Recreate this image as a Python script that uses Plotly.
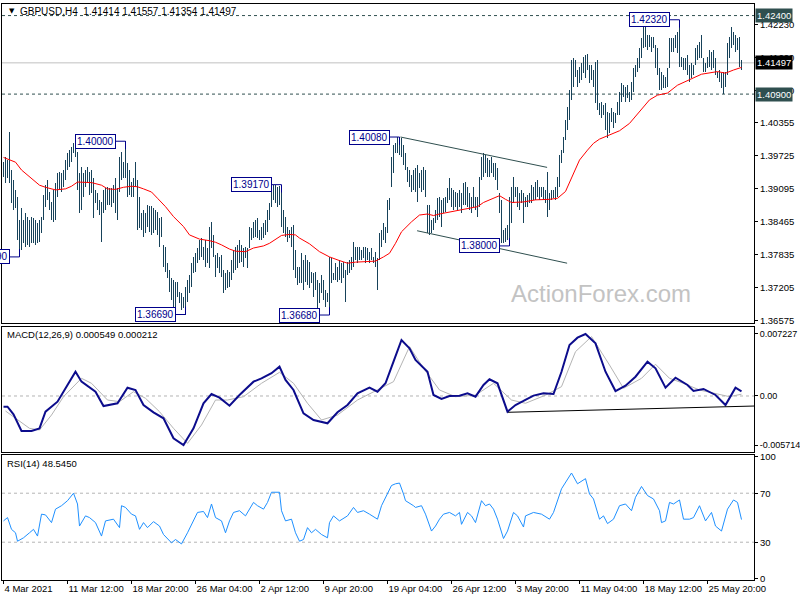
import plotly.graph_objects as go

# ---------------- data ----------------
highs = [
 1.3960,1.3970,1.3964,1.4018,1.3945,1.3926,1.3907,1.3894,1.3850,1.3873,
 1.3850,1.3863,1.3856,1.3850,1.3856,1.3854,1.3850,1.3844,1.3850,1.3856,
 1.3897,1.3917,1.3926,1.3903,1.3884,1.3907,1.3920,1.3940,1.3941,1.3940,
 1.3945,1.3964,1.3978,1.3983,1.3989,1.3997,1.3997,1.3979,1.3940,1.3951,
 1.3940,1.3945,1.3951,1.3941,1.3945,1.3930,1.3907,1.3901,1.3888,1.3884,
 1.3907,1.3911,1.3913,1.3911,1.3911,1.3917,1.3930,1.3911,1.3970,1.3979,
 1.3960,1.4000,1.3958,1.3945,1.3922,1.3930,1.3960,1.3926,1.3894,1.3863,
 1.3869,1.3863,1.3878,1.3876,1.3876,1.3873,1.3869,1.3865,1.3854,1.3856,
 1.3802,1.3798,1.3768,1.3754,1.3739,1.3735,1.3731,1.3731,1.3712,1.3710,
 1.3703,1.3722,1.3735,1.3745,1.3768,1.3779,1.3787,1.3796,1.3812,1.3815,
 1.3798,1.3812,1.3796,1.3836,1.3846,1.3821,1.3783,1.3787,1.3779,1.3783,
 1.3754,1.3749,1.3754,1.3750,1.3773,1.3792,1.3798,1.3802,1.3812,1.3802,
 1.3796,1.3798,1.3796,1.3836,1.3834,1.3846,1.3850,1.3854,1.3831,1.3836,
 1.3844,1.3850,1.3869,1.3882,1.3913,1.3917,1.3917,1.3913,1.3915,1.3917,
 1.3869,1.3856,1.3836,1.3831,1.3836,1.3840,1.3792,1.3760,1.3760,1.3787,
 1.3773,1.3783,1.3773,1.3770,1.3750,1.3749,1.3750,1.3735,1.3729,1.3745,
 1.3735,1.3716,1.3710,1.3779,1.3777,1.3749,1.3768,1.3760,1.3773,1.3768,
 1.3770,1.3754,1.3770,1.3773,1.3779,1.3808,1.3798,1.3798,1.3798,1.3792,
 1.3798,1.3798,1.3796,1.3789,1.3796,1.3779,1.3789,1.3777,1.3825,1.3831,
 1.3844,1.3836,1.3888,1.3892,1.3970,1.3993,1.3997,1.4008,1.4008,1.4007,
 1.3993,1.3978,1.3951,1.3945,1.3936,1.3945,1.3949,1.3955,1.3940,1.3945,
 1.3951,1.3945,1.3878,1.3878,1.3850,1.3854,1.3869,1.3892,1.3894,1.3888,
 1.3892,1.3894,1.3911,1.3930,1.3911,1.3907,1.3903,1.3901,1.3907,1.3901,
 1.3920,1.3922,1.3913,1.3901,1.3894,1.3913,1.3894,1.3894,1.3932,1.3970,
 1.3978,1.3974,1.3968,1.3964,1.3970,1.3959,1.3959,1.3949,1.3901,1.3888,
 1.3831,1.3834,1.3840,1.3894,1.3913,1.3932,1.3913,1.3913,1.3901,1.3907,
 1.3901,1.3894,1.3897,1.3901,1.3917,1.3913,1.3922,1.3926,1.3913,1.3913,
 1.3913,1.3907,1.3941,1.3901,1.3907,1.3907,1.3913,1.3932,1.3974,1.3983,
 1.4008,1.4041,1.4066,1.4098,1.4155,1.4159,1.4155,1.4136,1.4142,1.4149,
 1.4161,1.4165,1.4167,1.4146,1.4146,1.4136,1.4151,1.4155,1.4073,1.4075,
 1.4069,1.4073,1.4056,1.4054,1.4064,1.4056,1.4054,1.4075,1.4094,1.4111,
 1.4107,1.4104,1.4107,1.4094,1.4113,1.4140,1.4146,1.4159,1.4178,1.4197,
 1.4222,1.4218,1.4203,1.4203,1.4199,1.4199,1.4184,1.4178,1.4140,1.4132,
 1.4127,1.4123,1.4140,1.4197,1.4197,1.4197,1.4203,1.4209,1.4232,1.4161,
 1.4159,1.4159,1.4165,1.4146,1.4149,1.4146,1.4178,1.4184,1.4190,1.4203,
 1.4159,1.4149,1.4161,1.4174,1.4170,1.4174,1.4159,1.4132,1.4136,1.4130,
 1.4132,1.4132,1.4188,1.4199,1.4218,1.4209,1.4203,1.4197,1.4199,1.41557,
]
lows = [
 1.3932,1.3920,1.3930,1.3920,1.3882,1.3869,1.3873,1.3812,1.3779,1.3792,
 1.3806,1.3798,1.3802,1.3798,1.3806,1.3806,1.3802,1.3806,1.3808,1.3825,
 1.3850,1.3875,1.3888,1.3869,1.3850,1.3846,1.3850,1.3894,1.3907,1.3903,
 1.3913,1.3926,1.3945,1.3951,1.3960,1.3978,1.3970,1.3907,1.3863,1.3869,
 1.3894,1.3913,1.3920,1.3897,1.3901,1.3854,1.3882,1.3869,1.3859,1.3808,
 1.3863,1.3869,1.3878,1.3878,1.3875,1.3882,1.3863,1.3850,1.3903,1.3926,
 1.3930,1.3930,1.3894,1.3897,1.3894,1.3894,1.3913,1.3831,1.3835,1.3831,
 1.3817,1.3825,1.3836,1.3827,1.3821,1.3825,1.3831,1.3821,1.3798,1.3817,
 1.3760,1.3750,1.3739,1.3712,1.3697,1.3684,1.3672,1.3703,1.3691,1.3678,
 1.3682,1.3669,1.3693,1.3710,1.3722,1.3749,1.3751,1.3768,1.3773,1.3779,
 1.3773,1.3760,1.3768,1.3758,1.3796,1.3779,1.3741,1.3758,1.3749,1.3741,
 1.3710,1.3716,1.3720,1.3722,1.3735,1.3749,1.3754,1.3758,1.3768,1.3770,
 1.3760,1.3777,1.3758,1.3796,1.3812,1.3815,1.3817,1.3815,1.3812,1.3812,
 1.3815,1.3821,1.3827,1.3850,1.3875,1.3888,1.3882,1.3875,1.3878,1.3836,
 1.3825,1.3817,1.3808,1.3815,1.3798,1.3754,1.3739,1.3726,1.3730,1.3730,
 1.3716,1.3731,1.3726,1.3720,1.3730,1.3703,1.3716,1.3678,1.3691,1.3710,
 1.3697,1.3684,1.3693,1.3668,1.3730,1.3735,1.3735,1.3731,1.3735,1.3730,
 1.3739,1.3693,1.3745,1.3749,1.3754,1.3760,1.3773,1.3768,1.3773,1.3773,
 1.3777,1.3768,1.3773,1.3768,1.3773,1.3768,1.3760,1.3716,1.3773,1.3798,
 1.3812,1.3806,1.3825,1.3869,1.3913,1.3940,1.3978,1.3978,1.3974,1.3970,
 1.3955,1.3945,1.3922,1.3913,1.3903,1.3907,1.3903,1.3884,1.3911,1.3903,
 1.3907,1.3894,1.3825,1.3821,1.3825,1.3831,1.3844,1.3850,1.3856,1.3836,
 1.3863,1.3865,1.3882,1.3888,1.3875,1.3869,1.3875,1.3869,1.3875,1.3863,
 1.3878,1.3878,1.3875,1.3869,1.3863,1.3875,1.3869,1.3856,1.3875,1.3926,
 1.3932,1.3940,1.3932,1.3932,1.3940,1.3932,1.3926,1.3907,1.3863,1.3806,
 1.3806,1.3808,1.3812,1.3800,1.3844,1.3882,1.3894,1.3875,1.3869,1.3882,
 1.3844,1.3875,1.3875,1.3882,1.3882,1.3888,1.3888,1.3894,1.3888,1.3894,
 1.3888,1.3882,1.3856,1.3869,1.3888,1.3892,1.3888,1.3894,1.3913,1.3958,
 1.3978,1.4002,1.4022,1.4041,1.4079,1.4104,1.4123,1.4104,1.4111,1.4117,
 1.4130,1.4121,1.4136,1.4111,1.4117,1.4104,1.4073,1.4060,1.4050,1.4045,
 1.4050,1.4022,1.4006,1.4016,1.4037,1.4026,1.4035,1.4050,1.4050,1.4075,
 1.4085,1.4075,1.4083,1.4075,1.4079,1.4094,1.4123,1.4132,1.4140,1.4159,
 1.4178,1.4180,1.4174,1.4180,1.4170,1.4178,1.4140,1.4127,1.4098,1.4098,
 1.4102,1.4102,1.4104,1.4140,1.4170,1.4170,1.4178,1.4169,1.4142,1.4142,
 1.4136,1.4136,1.4127,1.4113,1.4121,1.4127,1.4146,1.4155,1.4159,1.4159,
 1.4132,1.4132,1.4140,1.4142,1.4136,1.4140,1.4127,1.4121,1.4113,1.4102,
 1.4091,1.4104,1.4127,1.4159,1.4178,1.4184,1.4170,1.4174,1.4142,1.41354,
]
bar_idx = list(range(len(highs)))

ma_idx = [0,6,9,14,18,21,26,31,34,37,44,49,52,56,60,64,67,70,74,
          77,81,85,90,93,98,103,106,109,113,116,121,125,130,133,137,139,143,146,148,
          153,158,163,168,172,176,181,186,190,193,196,199,204,208,212,215,218,223,
          230,237,240,245,248,251,254,260,266,273,277,281,285,288,292,295,298,
          303,308,313,318,323,327,332,337,343,349,357,361,365,369]
ma_vals = [1.3969,1.3960,1.3945,1.3928,1.3916,1.3912,1.3907,1.3909,1.3914,1.3922,1.3921,1.3916,1.3909,1.3908,1.3912,1.3914,1.3913,1.3909,1.3903,
           1.3891,1.3875,1.3856,1.3837,1.3821,1.3813,1.3810,1.3807,1.3802,1.3794,1.3790,1.3789,1.3796,1.3800,1.3805,1.3815,1.3820,1.3822,1.3821,1.3815,
           1.3804,1.3789,1.3779,1.3772,1.3767,1.3769,1.3770,1.3771,1.3779,1.3786,1.3805,1.3827,1.3846,1.3859,1.3861,1.3858,1.3861,1.3865,
           1.3870,1.3875,1.3883,1.3891,1.3896,1.3889,1.3883,1.3884,1.3888,1.3889,1.3891,1.3904,1.3939,1.3964,1.3983,1.3996,1.4004,
           1.4012,1.4020,1.4034,1.4056,1.4079,1.4088,1.4092,1.4107,1.4117,1.4128,1.4133,1.4130,1.4136,1.4141]

macd_idx = [0,2,5,9,14,18,21,27,32,36,39,46,50,57,62,66,70,75,80,85,
            90,95,100,104,108,113,118,125,129,134,138,141,145,150,155,162,167,172,177,183,
            187,191,195,199,203,206,212,215,219,223,228,232,236,240,243,247,252,256,260,265,
            270,275,279,283,287,291,296,301,306,311,316,322,326,331,336,342,345,350,356,361,366,369]
macd_vals = [-0.00125,-0.00125,-0.00213,-0.00408,-0.00408,-0.00377,-0.00183,-0.00066,0.00128,0.00283,
             0.00167,0.0005,-0.00117,-0.00085,0.00097,0.0007,-0.00105,-0.0019,-0.0026,-0.00493,
             -0.00571,-0.00377,-0.00085,0.00023,-0.0002,-0.00113,0.00012,0.00167,0.00206,0.00265,
             0.00342,0.00187,0.0007,-0.00202,-0.0028,-0.00318,-0.0019,-0.00105,0.00031,0.00097,
             0.0005,0.00148,0.004,0.00653,0.00556,0.0042,0.00283,0.00012,-0.00035,0.0,
             0.00004,0.00031,-0.00008,0.00128,0.00195,0.00148,-0.00183,-0.00105,-0.00058,0.00004,
             0.00031,0.00023,0.00283,0.00595,0.0068,0.00722,0.00614,0.00283,0.00058,0.0012,
             0.00225,0.004,0.00323,0.00097,0.00213,0.00128,0.00058,0.00082,0.00012,-0.00105,
             0.00097,0.00055]
signal_idx = [1,6,13,18,24,30,39,44,52,58,65,71,78,85,92,99,106,112,120,129,
              138,145,152,159,167,177,187,195,203,210,218,226,236,245,254,261,271,279,286,294,
              303,310,319,326,333,340,348,356,363,369]
signal_vals = [-0.00175,-0.0026,-0.00377,-0.00396,-0.00222,-0.00008,0.00206,0.00148,-0.00047,-0.00066,
               0.0005,-0.00027,-0.00183,-0.00377,-0.00552,-0.00338,-0.00047,-0.00047,-0.00008,0.00148,
               0.00276,0.00148,-0.00085,-0.0028,-0.00222,-0.00047,0.0007,0.00167,0.00575,0.00323,
               0.0007,-0.00008,0.0001,0.00148,-0.00047,-0.00085,0.0001,0.00109,0.00517,0.00692,
               0.00361,0.0009,0.00206,0.0037,0.00206,0.00148,0.0007,0.00031,-0.00008,0.00021]

rsi_idx = [0,2,4,6,7,10,13,15,17,19,21,24,26,29,32,35,37,38,41,43,
           46,49,51,55,58,59,61,64,66,68,70,72,75,78,80,84,86,89,92,95,
           97,100,102,104,106,109,111,113,115,118,121,125,127,130,132,134,138,139,141,144,
           146,148,150,152,154,156,159,162,163,165,168,172,175,177,180,183,187,189,191,194,
           196,198,200,201,205,206,209,211,214,216,218,220,223,226,228,229,232,234,236,239,
           241,243,245,247,250,252,255,257,260,261,265,269,273,275,279,282,284,287,291,293,
           295,298,300,302,305,308,311,314,316,319,322,325,328,329,331,333,335,338,340,343,
           345,348,351,354,356,359,362,365,367,369]
rsi_vals = [47.4,50.1,40.5,37.7,30.8,33.6,37.7,40.5,35,52.9,52.3,46,57,59.8,63.9,70,61.2,43.2,51.5,50.1,
            46,35,47.4,48.8,41.9,59.8,58.4,52.9,51.5,40.5,46,41.9,46.8,43.2,36.3,29.5,32.2,28.6,37.7,47.4,
            54.3,55.1,50.1,61.2,50.1,47.4,37.7,47.4,54.3,55.7,51.5,62.5,59.8,57,62.5,70.8,70.8,55.7,47.4,48.8,
            37.7,30.8,32.2,41.9,37.7,40.5,36.3,33.6,46,51.5,47.4,51.5,58.4,54.3,55.7,52.9,48.8,59.8,66.7,76.3,
            77.7,78.3,69.4,63.9,59.8,58.4,59.8,52.9,39.1,43.2,48.8,52.9,54.3,51.5,54.3,44.6,54.3,51.5,46,63.9,
            59.8,61.2,57,48.8,33,39.1,54.3,51.5,42.4,51.5,54.3,52.9,48.8,54.3,73.6,81.9,86.5,77.7,81.9,69.4,
            65.3,48.8,51.5,45.2,48.8,59.8,61.2,55.7,66.7,75.5,68.1,65.3,55.7,46,47.4,62.5,61.2,64.5,48.8,48.8,
            50.1,59.8,47.4,54.3,43.2,39.1,57,64.5,62.5,48.5]

date_tick_idx = [0,32,64,96,128,160,192,224,256,288,320,352]
date_tick_text = ["4 Mar 2021","11 Mar 12:00","18 Mar 20:00","26 Mar 04:00","2 Apr 12:00","9 Apr 20:00",
                  "19 Apr 04:00","26 Apr 12:00","3 May 20:00","11 May 04:00","18 May 12:00","25 May 20:00"]
price_ticks = [1.36575,1.37205,1.37835,1.38465,1.39095,1.39725,1.40355,1.40970,1.41600,1.42230]

# swing labels
swing_text = ["1.37790","1.40000","1.36690","1.39170","1.36680","1.40080","1.38000","1.42320"]
swing_idx = [8,61,91,139,163,198,253,338]
swing_price = [1.3779,1.4000,1.3669,1.3917,1.3668,1.4008,1.3800,1.4232]
swing_is_high = [False,True,False,True,False,True,False,True]

level_dashed = [1.4240,1.4090]
last_price = 1.41497

# channel trendlines (idx, price)
chan_upper = [(198.5,1.4008),(271.8,1.3950)]
chan_lower = [(206.8,1.3829),(281.8,1.3767)]
macd_trend = [(252.3,-0.0019),(375.5,-0.00117)]

# ---------------- figure ----------------
FONT = "Liberation Sans, Arial, sans-serif"
BAR_COLOR = "#17425a"
bar_len = [h - l for h, l in zip(highs, lows)]

fig = go.Figure()
fig.add_trace(go.Bar(x=bar_idx, y=bar_len, base=lows, width=0.5,
                     marker=dict(color=BAR_COLOR, line=dict(width=0)),
                     xaxis="x2", yaxis="y", hoverinfo="skip"))
fig.add_trace(go.Scatter(x=ma_idx, y=ma_vals, mode="lines", line=dict(color="#ff0000", width=1),
                         xaxis="x2", yaxis="y"))
fig.add_trace(go.Scatter(x=signal_idx, y=signal_vals, mode="lines", line=dict(color="#b4b4b4", width=1),
                         xaxis="x3", yaxis="y2"))
fig.add_trace(go.Scatter(x=macd_idx, y=macd_vals, mode="lines", line=dict(color="#0c0c8c", width=2),
                         xaxis="x3", yaxis="y2"))
fig.add_trace(go.Scatter(x=rsi_idx, y=rsi_vals, mode="lines", line=dict(color="#1e90ff", width=1),
                         xaxis="x", yaxis="y3"))

XR = [-0.75, 375.25]
ax_common = dict(showline=True, mirror=True, linecolor="black", linewidth=1, showgrid=False,
                 zeroline=False, range=XR, automargin=False, fixedrange=True)
tickfont = dict(family=FONT, size=9.5, color="black")
yax_common = dict(side="right", showline=True, mirror=True, linecolor="black", linewidth=1, showgrid=False,
                  zeroline=False, automargin=False, ticks="outside", ticklen=3, tickcolor="black",
                  tickmode="array", fixedrange=True)

fig.update_layout(
    width=800, height=600, showlegend=False, bargap=0,
    paper_bgcolor="white", plot_bgcolor="white",
    margin=dict(l=2, r=46, t=4, b=20, autoexpand=False),
    xaxis=dict(**ax_common, anchor="y3", tickmode="array", tickvals=date_tick_idx, ticktext=date_tick_text,
               ticks="outside", ticklen=3, tickcolor="black", tickfont=tickfont, tickangle=0,
               ticklabelposition="outside right"),
    xaxis2=dict(**ax_common, anchor="y", matches="x", showticklabels=False),
    xaxis3=dict(**ax_common, anchor="y2", matches="x", showticklabels=False),
    yaxis=dict(**yax_common, domain=[0.4462, 1.0], anchor="x2", range=[1.36528, 1.42621],
               tickvals=price_ticks, ticktext=[f"{v:.5f}" for v in price_ticks], tickfont=tickfont),
    yaxis2=dict(**yax_common, domain=[0.2222, 0.4392], anchor="x3", range=[-0.00653, 0.00804],
                tickvals=[-0.005714, 0.0, 0.007227], ticktext=["-0.005714", "0.00", "0.007227"],
                tickfont=dict(family=FONT, size=9, color="black")),
    yaxis3=dict(**yax_common, domain=[0.0, 0.2170], anchor="x", range=[-0.86, 101.2],
                tickvals=[0, 30, 70, 100], tickfont=tickfont),
    hovermode=False,
)

shapes = []
for lv in level_dashed:
    shapes.append(dict(type="line", xref="x2 domain", yref="y", x0=0, x1=1, y0=lv, y1=lv,
                       line=dict(color="#2f4f4f", width=1, dash="3px,3px"), layer="below"))
shapes.append(dict(type="line", xref="x2 domain", yref="y", x0=0, x1=1, y0=last_price, y1=last_price,
                   line=dict(color="#c0c0c0", width=1), layer="below"))
for seg in (chan_upper, chan_lower):
    shapes.append(dict(type="line", xref="x2", yref="y", x0=seg[0][0], y0=seg[0][1], x1=seg[1][0], y1=seg[1][1],
                       line=dict(color="#2f4f4f", width=1)))
shapes.append(dict(type="line", xref="x3 domain", yref="y2", x0=0, x1=1, y0=0, y1=0,
                   line=dict(color="#b4b4b4", width=1, dash="3px,3px"), layer="below"))
shapes.append(dict(type="line", xref="x3", yref="y2", x0=macd_trend[0][0], y0=macd_trend[0][1],
                   x1=macd_trend[1][0], y1=macd_trend[1][1], line=dict(color="black", width=1)))
for lv in (70, 30):
    shapes.append(dict(type="line", xref="x domain", yref="y3", x0=0, x1=1, y0=lv, y1=lv,
                       line=dict(color="#b4b4b4", width=1, dash="3px,3px"), layer="below"))
for i, p, hi in zip(swing_idx, swing_price, swing_is_high):
    shapes.append(dict(type="line", xref="x2", yref="y", x0=i - 5, x1=i, y0=p, y1=p,
                       line=dict(color="#00008b", width=1)))
    shapes.append(dict(type="line", xref="x2", yref="y", x0=i, x1=i, y0=p,
                       y1=p - 0.0015 if hi else p + 0.0015, line=dict(color="#00008b", width=1)))
fig.update_layout(shapes=shapes)

ann = []
for t, i, p in zip(swing_text, swing_idx, swing_price):
    ann.append(dict(xref="x2", yref="y", x=i, y=p, text=t, showarrow=False, xanchor="right", yanchor="middle",
                    xshift=-10, font=dict(family=FONT, size=10, color="#00008b"),
                    bgcolor="white", bordercolor="#00008b", borderwidth=1, borderpad=1))
for v, bg in ((1.4240, "#2f4f4f"), (last_price, "black"), (1.4090, "#2f4f4f")):
    ann.append(dict(xref="paper", yref="y", x=1, y=v, text=f"{v:.5f}", showarrow=False, xanchor="left",
                    yanchor="middle", xshift=1, font=dict(family=FONT, size=9.5, color="white"),
                    bgcolor=bg, borderpad=1))
ann.append(dict(xref="paper", yref="paper", x=(7 - 2) / 752, y=(580 - 11) / 576, text="▼", showarrow=False,
                xanchor="left", yanchor="middle", font=dict(family="DejaVu Sans", size=7, color="black")))
ann.append(dict(xref="paper", yref="paper", x=(18 - 2) / 752, y=(580 - 11) / 576,
                text="GBPUSD,H4  1.41414 1.41557 1.41354 1.41497", showarrow=False,
                xanchor="left", yanchor="middle", font=dict(family=FONT, size=10, color="black")))
ann.append(dict(xref="paper", yref="paper", x=(5 - 2) / 752, y=(580 - 334) / 576,
                text="MACD(12,26,9) 0.000549 0.000212", showarrow=False,
                xanchor="left", yanchor="middle", font=dict(family=FONT, size=9.5, color="black")))
ann.append(dict(xref="paper", yref="paper", x=(5 - 2) / 752, y=(580 - 463) / 576,
                text="RSI(14) 48.5450", showarrow=False,
                xanchor="left", yanchor="middle", font=dict(family=FONT, size=9.5, color="black")))
ann.append(dict(xref="paper", yref="paper", x=(601 - 2) / 752, y=(580 - 293) / 576, text="ActionForex.com",
                showarrow=False, xanchor="center", yanchor="middle",
                font=dict(family=FONT, size=24, color="rgb(195,195,195)")))
fig.update_layout(annotations=ann)

fig.write_html("out.html", config={"displayModeBar": False},
               post_script="document.body.style.margin='0';document.body.style.overflow='hidden';")
